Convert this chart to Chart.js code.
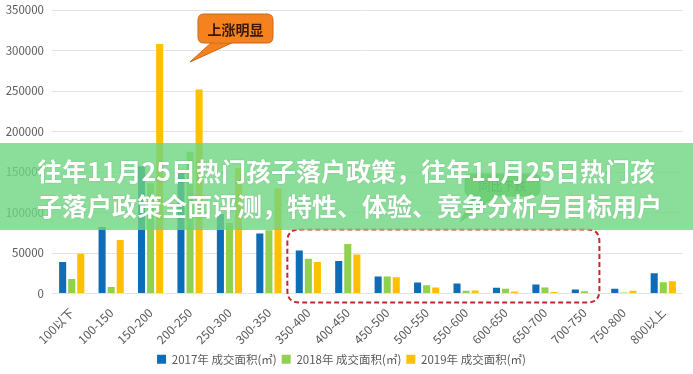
<!DOCTYPE html>
<html>
<head>
<meta charset="utf-8">
<script src="https://cdn.jsdelivr.net/npm/chart.js@4"></script>
<style>
  html, body { margin: 0; padding: 0; background: #fff; }
  #wrap { width: 693px; height: 374px; position: relative; }
</style>
</head>
<body>
<div id="wrap"><canvas id="chart" width="693" height="374"></canvas></div>
<script>
  const categories = [
    "100以下", "100-150", "150-200", "200-250", "250-300", "300-350",
    "350-400", "400-450", "450-500", "500-550", "550-600", "600-650",
    "650-700", "700-750", "750-800", "800以上",
  ];

  const area2017 = [39000, 82000, 157000, 150000, 98000, 74000, 53000, 40000, 21000, 13600, 12400, 7000, 11000, 5000, 5800, 25000];
  const area2018 = [18000, 8000, 136000, 175000, 87000, 78000, 43000, 61000, 21000, 10300, 3300, 5800, 7400, 2800, 1200, 14000];
  const area2019 = [49000, 66000, 308000, 252000, 155000, 130000, 39000, 48000, 20000, 7400, 3700, 2500, 2000, 500, 3300, 15200];

  const seriesNames = ["2017年 成交面积(㎡)", "2018年 成交面积(㎡)", "2019年 成交面积(㎡)"];

  const titleLines = [
    "往年11月25日热门孩子落户政策，往年11月25日热门孩",
    "子落户政策全面评测，特性、体验、竞争分析与目标用户",
  ];

  const cjkFont = '"Noto Sans CJK SC", "Noto Sans", sans-serif';

  function roundRect(ctx, x, y, w, h, r) {
    ctx.beginPath();
    ctx.moveTo(x + r, y);
    ctx.lineTo(x + w - r, y);
    ctx.quadraticCurveTo(x + w, y, x + w, y + r);
    ctx.lineTo(x + w, y + h - r);
    ctx.quadraticCurveTo(x + w, y + h, x + w - r, y + h);
    ctx.lineTo(x + r, y + h);
    ctx.quadraticCurveTo(x, y + h, x, y + h - r);
    ctx.lineTo(x, y + r);
    ctx.quadraticCurveTo(x, y, x + r, y);
    ctx.closePath();
  }

  // callout box with a pointer tail
  function callout(ctx, box, tail, fill, stroke, text, textColor, font) {
    ctx.save();
    ctx.beginPath();
    ctx.moveTo(tail.x0, box.y + box.h - 1);
    ctx.lineTo(tail.x, tail.y);
    ctx.lineTo(tail.x1, box.y + box.h - 1);
    ctx.closePath();
    ctx.fillStyle = fill;
    ctx.fill();
    ctx.strokeStyle = stroke;
    ctx.lineWidth = 1;
    ctx.stroke();
    roundRect(ctx, box.x, box.y, box.w, box.h, 6);
    ctx.fill();
    ctx.stroke();
    // hide tail join
    ctx.beginPath();
    ctx.moveTo(tail.x0 + 1, box.y + box.h - 2);
    ctx.lineTo(tail.x1 - 1, box.y + box.h - 2);
    ctx.lineWidth = 3;
    ctx.strokeStyle = fill;
    ctx.stroke();
    ctx.fillStyle = textColor;
    ctx.font = font;
    ctx.textAlign = "center";
    ctx.textBaseline = "middle";
    ctx.fillText(text, box.x + box.w / 2, box.y + box.h / 2 + 1);
    ctx.restore();
  }

  const overlayPlugin = {
    id: "overlay",
    afterDraw(chart) {
      const ctx = chart.ctx;
      const xs = chart.scales.x;
      const ys = chart.scales.y;

      // red dashed frame round the 350-750 groups
      const left = xs.getPixelForValue(6) - 21;
      const right = xs.getPixelForValue(13) + 15;
      const top = ys.getPixelForValue(79000);
      const bottom = ys.bottom + 9;
      ctx.save();
      ctx.setLineDash([5, 3]);
      ctx.lineWidth = 2;
      ctx.strokeStyle = "#c8262d";
      roundRect(ctx, left, top, right - left, bottom - top, 12);
      ctx.stroke();
      ctx.restore();

      // "上涨明显" callout
      callout(
        ctx,
        { x: 198, y: 14, w: 75, h: 29 },
        { x0: 212, x1: 234, x: 190, y: 62 },
        "#f5821f", "#c8661a", "上涨明显", "#3a1800",
        "bold 14px " + cjkFont
      );

      // "同比下跌" callout (sits under the banner)
      callout(
        ctx,
        { x: 465, y: 174, w: 75, h: 22 },
        { x0: 475, x1: 497, x: 460, y: 222 },
        "#78b95c", "#6aa851", "同比下跌", "#2f5a2a",
        "12px " + cjkFont
      );

      // green title banner
      ctx.save();
      ctx.fillStyle = "rgba(110, 214, 128, 0.8)";
      ctx.fillRect(0, 143, chart.width, 87);
      ctx.font = "bold 25px " + cjkFont;
      ctx.textAlign = "left";
      ctx.textBaseline = "middle";
      ctx.fillStyle = "#ffffff";
      ctx.shadowColor = "rgba(0, 0, 0, 0.15)";
      ctx.shadowBlur = 2;
      ctx.fillText(titleLines[0], 37, 171);
      ctx.fillText(titleLines[1], 37, 206);
      ctx.restore();
    },
  };

  new Chart(document.getElementById("chart"), {
    type: "bar",
    data: {
      labels: categories,
      datasets: [
        { label: seriesNames[0], data: area2017, backgroundColor: "#0f6cb6" },
        { label: seriesNames[1], data: area2018, backgroundColor: "#92d050" },
        { label: seriesNames[2], data: area2019, backgroundColor: "#ffc000" },
      ],
    },
    options: {
      responsive: false,
      animation: false,
      layout: { padding: { top: 10, right: 10, left: 0, bottom: -1 } },
      datasets: {
        bar: { categoryPercentage: 0.69, barPercentage: 0.78 },
      },
      scales: {
        x: {
          grid: { display: false },
          border: { display: false },
          afterFit: (scale) => {
            scale.height = 55;
            scale.paddingLeft = 0;
            scale.paddingRight = 0;
          },
          ticks: {
            maxRotation: 45,
            minRotation: 45,
            color: "#595959",
            font: { family: cjkFont, size: 12 },
            padding: 4,
          },
        },
        y: {
          min: 0,
          max: 350000,
          border: { display: false },
          grid: { color: "#e3e3e3", lineWidth: 1, drawTicks: false },
          afterFit: (scale) => {
            scale.width = 52;
            scale.paddingTop = 0;
            scale.paddingBottom = 0;
          },
          ticks: {
            stepSize: 50000,
            color: "#595959",
            font: { family: cjkFont, size: 11.5 },
            padding: 8,
            callback: (value) => String(value),
          },
        },
      },
      plugins: {
        legend: {
          position: "bottom",
          labels: {
            boxWidth: 9,
            boxHeight: 9,
            color: "#595959",
            font: { family: cjkFont, size: 11.5 },
            padding: 5,
          },
        },
        tooltip: { enabled: false },
      },
    },
    plugins: [overlayPlugin],
  });
</script>
</body>
</html>
